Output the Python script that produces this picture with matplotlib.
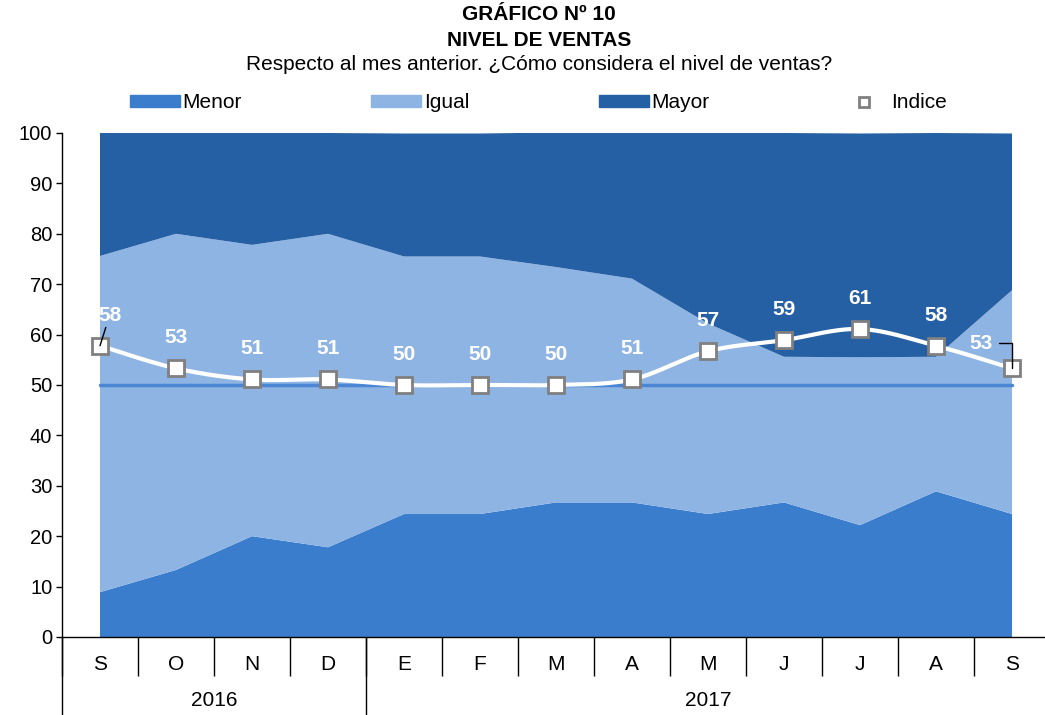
import numpy as np
import matplotlib.pyplot as plt
from matplotlib.patches import Patch
from matplotlib.lines import Line2D

plt.rcParams['font.family'] = ['Liberation Sans', 'DejaVu Sans']

meses = ['S', 'O', 'N', 'D', 'E', 'F', 'M', 'A', 'M', 'J', 'J', 'A', 'S']
anios = ['2016', '2017']

# porcentajes por mes (sep 2016 - sep 2017)
menor = [8.9, 13.3, 20.0, 17.8, 24.4, 24.4, 26.7, 26.7, 24.4, 26.7, 22.2, 28.9, 24.4]
igual = [66.7, 66.7, 57.8, 62.2, 51.1, 51.1, 46.7, 44.4, 37.8, 28.9, 33.3, 26.7, 44.4]
mayor = [24.4, 20.0, 22.2, 20.0, 24.4, 24.4, 26.7, 28.9, 37.8, 44.4, 44.4, 44.4, 31.1]
indice = [57.8, 53.3, 51.1, 51.1, 50.0, 50.0, 50.0, 51.1, 56.7, 58.9, 61.1, 57.8, 53.3]
neutro = 50

c_menor = '#3A7DCC'
c_igual = '#8EB4E3'
c_mayor = '#2660A4'


def suavizar(x, y, n=30):
    # curva tipo Catmull-Rom (linea suavizada de Excel)
    x = np.asarray(x, float)
    y = np.asarray(y, float)
    px = np.concatenate([[x[0]], x, [x[-1]]])
    py = np.concatenate([[y[0]], y, [y[-1]]])
    xs, ys = [], []
    for i in range(1, len(px) - 2):
        t = np.linspace(0, 1, n)
        for p, out in ((px, xs), (py, ys)):
            p0, p1, p2, p3 = p[i - 1], p[i], p[i + 1], p[i + 2]
            out.extend(0.5 * ((2 * p1) + (-p0 + p2) * t
                              + (2 * p0 - 5 * p1 + 4 * p2 - p3) * t ** 2
                              + (-p0 + 3 * p1 - 3 * p2 + p3) * t ** 3))
    return np.array(xs), np.array(ys)


fig = plt.figure(figsize=(10.45, 7.15), dpi=100)
ax = fig.add_axes([62 / 1045, 1 - 637 / 715, 988 / 1045, 504 / 715])

x = np.arange(len(meses))
ax.stackplot(x, menor, igual, mayor, colors=[c_menor, c_igual, c_mayor],
             linewidth=0, zorder=1)
ax.plot([x[0], x[-1]], [neutro, neutro], color='#4A86D4', lw=2.5,
        solid_capstyle='round', zorder=2)

sx, sy = suavizar(x, indice)
ax.plot(sx, sy, color='white', lw=3, zorder=3)
ax.plot(x, indice, linestyle='none', marker='s', ms=11, mfc='white',
        mec='#808080', mew=2, zorder=4)

for i, v in enumerate(indice):
    lbl = str(int(round(v)))
    if i == 0:
        ax.annotate(lbl, (x[i], v), xytext=(7, 22), textcoords='offset points',
                    ha='center', va='center', color='white', fontsize=15,
                    fontweight='bold', zorder=6,
                    arrowprops=dict(arrowstyle='-', color='black', lw=1,
                                    shrinkA=0, shrinkB=0))
    elif i == len(indice) - 1:
        ax.annotate(lbl, (x[i], v), xytext=(-22, 18), textcoords='offset points',
                    ha='center', va='center', color='white', fontsize=15,
                    fontweight='bold', zorder=6,
                    arrowprops=dict(arrowstyle='-', color='black', lw=1,
                                    shrinkA=2, shrinkB=0,
                                    connectionstyle='angle,angleA=0,angleB=90,rad=0'))
    else:
        ax.annotate(lbl, (x[i], v), xytext=(0, 22), textcoords='offset points',
                    ha='center', va='center', color='white', fontsize=15,
                    fontweight='bold', zorder=6)

ax.set_xlim(-0.5, len(meses) - 0.5)
ax.set_ylim(0, 100)
ax.set_yticks(range(0, 101, 10))
ax.tick_params(axis='y', direction='out', length=4, width=1, labelsize=14.5, pad=3)

ax.set_xticks(x)
ax.set_xticklabels(meses)
ax.tick_params(axis='x', which='major', length=0, labelsize=15, pad=13)
ax.set_xticks(np.arange(-0.5, len(meses), 1), minor=True)
ax.tick_params(axis='x', which='minor', direction='out', length=28, width=1)

for s in ['top', 'right']:
    ax.spines[s].set_visible(False)
for s in ['left', 'bottom']:
    ax.spines[s].set_linewidth(1)

# separadores de anio
sec = ax.secondary_xaxis('bottom')
sec.set_xticks([-0.5, 3.5])
sec.set_xticklabels([])
sec.tick_params(length=57, width=1, direction='out')
sec.spines['bottom'].set_visible(False)

ax.text(1.5, -0.125, anios[0], transform=ax.get_xaxis_transform(),
        ha='center', va='center', fontsize=15)
ax.text(8.0, -0.125, anios[1], transform=ax.get_xaxis_transform(),
        ha='center', va='center', fontsize=15)

fig.text(0.516, 1 - 15 / 715, 'GRÁFICO Nº 10', ha='center', va='center',
         fontsize=15, fontweight='bold')
fig.text(0.516, 1 - 40 / 715, 'NIVEL DE VENTAS', ha='center', va='center',
         fontsize=15, fontweight='bold')
fig.text(0.516, 1 - 64 / 715, 'Respecto al mes anterior. ¿Cómo considera el nivel de ventas?',
         ha='center', va='center', fontsize=15)

handles = [Patch(color=c_menor), Patch(color=c_igual), Patch(color=c_mayor),
           Line2D([], [], linestyle='none', marker='s', ms=7, mfc='white',
                  mec='#808080', mew=2)]
fig.legend(handles, ['Menor', 'Igual', 'Mayor', 'Indice'], loc='center',
           bbox_to_anchor=(130 / 1045, 1 - 103 / 715 - 0.01, 817 / 1045, 0.02),
           mode='expand', ncol=4, frameon=False, fontsize=15, handlelength=2.4,
           handleheight=0.5, handletextpad=0.12, borderaxespad=0, borderpad=0)

fig.savefig('out.png', dpi=100)
